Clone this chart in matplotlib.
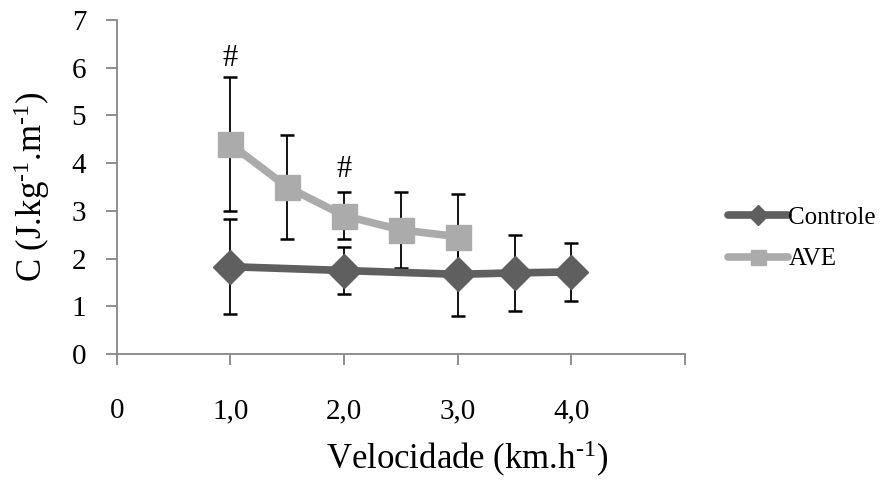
import matplotlib
matplotlib.use("Agg")
import matplotlib.pyplot as plt

plt.rcParams['font.family'] = ['Liberation Serif', 'DejaVu Serif']
plt.rcParams['mathtext.fontset'] = 'custom'
plt.rcParams['mathtext.rm'] = 'Liberation Serif'
plt.rcParams['mathtext.it'] = 'Liberation Serif:italic'

# data
controle_x = [1.0, 2.0, 3.0, 3.5, 4.0]
controle_y = [1.83, 1.75, 1.67, 1.70, 1.72]
controle_err = [1.0, 0.49, 0.88, 0.80, 0.60]

ave_x = [1.0, 1.5, 2.0, 2.5, 3.0]
ave_y = [4.40, 3.50, 2.90, 2.60, 2.46]
ave_err = [1.40, 1.10, 0.50, 0.80, 0.90]

sig_x = [1.0, 2.0]
sig_y = [6.2, 3.87]

x_ticks = [0, 1, 2, 3, 4, 5]
x_labels = ['0', '1,0', '2,0', '3,0', '4,0', '']

dark = '#5f5f5f'
light = '#ababab'
axis_col = '#868686'

fig = plt.figure(figsize=(8.84, 4.8), dpi=100)
ax = fig.add_axes([0.132, 0.2625, 0.643, 0.6958])

# error bars (under the lines)
ax.errorbar(controle_x, controle_y, yerr=controle_err, fmt='none', ecolor='black',
            elinewidth=1.3, capsize=5, capthick=1.8, zorder=1)
ax.errorbar(ave_x, ave_y, yerr=ave_err, fmt='none', ecolor='black',
            elinewidth=1.3, capsize=5, capthick=1.8, zorder=1)

ax.plot(controle_x, controle_y, color=dark, lw=5.5, marker='D', ms=17,
        solid_capstyle='round', label='Controle', zorder=2)
ax.plot(ave_x, ave_y, color=light, lw=5.5, marker='s', ms=18,
        solid_capstyle='round', label='AVE', zorder=3)

for xx, yy in zip(sig_x, sig_y):
    ax.text(xx, yy, '#', ha='center', va='center', fontsize=22)

ax.set_xlim(0, 5)
ax.set_ylim(0, 7)
ax.set_xticks(x_ticks)
ax.set_xticklabels(x_labels)
ax.set_yticks(range(0, 8))

for s in ['top', 'right']:
    ax.spines[s].set_visible(False)
for s in ['left', 'bottom']:
    ax.spines[s].set_color(axis_col)
    ax.spines[s].set_linewidth(1.3)

ax.tick_params(axis='x', direction='out', length=8, width=1.3, color=axis_col,
               labelsize=21, pad=24)
ax.tick_params(axis='y', direction='out', length=8, width=1.3, color=axis_col,
               labelsize=21, pad=14)

ax.set_xlabel(r'Velocidade (km.h$^{\text{-1}}$)', fontsize=25)
ax.xaxis.label.set_va('center')
ax.xaxis.set_label_coords(0.616, -0.315)
ax.set_ylabel(r'C (J.kg$^{\text{-1}}$.m$^{\text{-1}}$)', fontsize=25)
ax.yaxis.label.set_va('center')
ax.yaxis.set_label_coords(-0.15, 0.5)

ax.legend(loc='center left', bbox_to_anchor=(1.076, 0.346), frameon=False,
          fontsize=18, handlelength=2.4, handletextpad=0.0, labelspacing=0.75,
          borderpad=0, borderaxespad=0, numpoints=1, markerscale=0.6)

fig.savefig('out.png', dpi=100)
